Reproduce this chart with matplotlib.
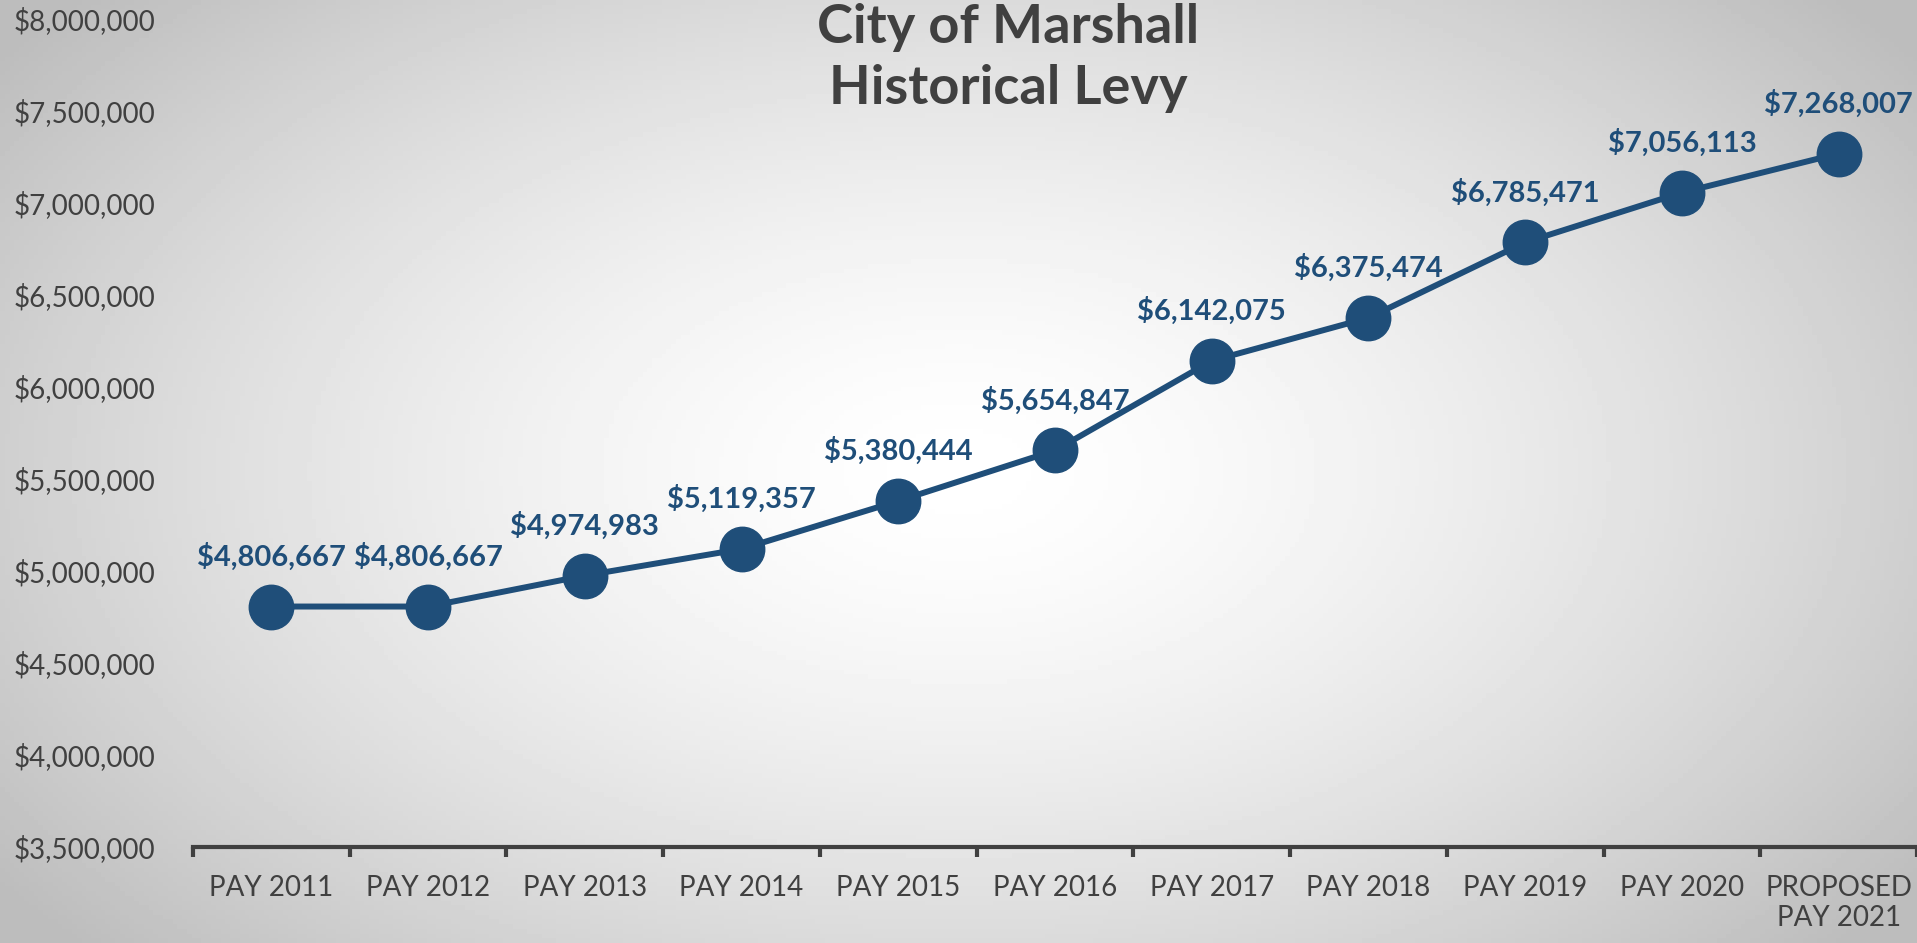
import numpy as np
import matplotlib.pyplot as plt
from matplotlib.ticker import FuncFormatter

# levy data
years = ['PAY 2011', 'PAY 2012', 'PAY 2013', 'PAY 2014', 'PAY 2015', 'PAY 2016',
         'PAY 2017', 'PAY 2018', 'PAY 2019', 'PAY 2020', 'PROPOSED\nPAY 2021']
levy = [4806667, 4806667, 4974983, 5119357, 5380444, 5654847,
        6142075, 6375474, 6785471, 7056113, 7268007]
yticks = [3500000, 4000000, 4500000, 5000000, 5500000, 6000000,
          6500000, 7000000, 7500000, 8000000]

blue = '#1F4E79'
gray = '#404040'
plt.rcParams['font.family'] = ['Lato', 'DejaVu Sans']

fig = plt.figure(figsize=(19.17, 9.43), dpi=100)

# radial gradient background
bg = fig.add_axes([0, 0, 1, 1], zorder=0)
xx, yy = np.meshgrid(np.linspace(0, 1, 400), np.linspace(0, 1, 200))
r = np.sqrt(((xx - 0.5) / 0.62) ** 2 + ((yy - 0.5) / 0.75) ** 2)
shade = 1.0 - 0.26 * np.clip(r, 0, 1) ** 1.5
bg.imshow(shade, cmap='gray', vmin=0, vmax=1, aspect='auto', extent=[0, 1, 0, 1])
bg.axis('off')

ax = fig.add_axes([0.1007, 0.1018, 0.8993, 0.8782], zorder=1)
ax.patch.set_alpha(0)
x = np.arange(len(years))
ax.plot(x, levy, color=blue, lw=4.3, marker='o', ms=32, zorder=3)

for xi, v in zip(x, levy):
    ax.annotate('${:,}'.format(v), (xi, v), xytext=(0, 36), textcoords='offset points',
                ha='center', va='center', fontsize=21, fontweight='bold', color=blue)

ax.set_xlim(-0.5, len(years) - 0.5)
ax.set_ylim(3500000, 8000000)
ax.set_yticks(yticks)
ax.yaxis.set_major_formatter(FuncFormatter(lambda v, p: '${:,.0f}'.format(v)))
ax.set_xticks(x)
ax.set_xticklabels(years)
ax.set_xticks(np.arange(-0.5, len(years)), minor=True)

for s in ['top', 'right', 'left']:
    ax.spines[s].set_visible(False)
ax.spines['bottom'].set_color(gray)
ax.spines['bottom'].set_linewidth(3)

ax.tick_params(axis='y', length=0, pad=27, labelsize=20, labelcolor=gray)
ax.tick_params(axis='x', which='major', length=0, pad=20, labelsize=20, labelcolor=gray)
ax.tick_params(axis='x', which='minor', length=7, width=3, color=gray)

fig.text(0.526, 0.997, 'City of Marshall\nHistorical Levy', ha='center', va='top',
         fontsize=39, fontweight='bold', color=gray, linespacing=1.3, zorder=2)

fig.savefig('out.png', dpi=100)
